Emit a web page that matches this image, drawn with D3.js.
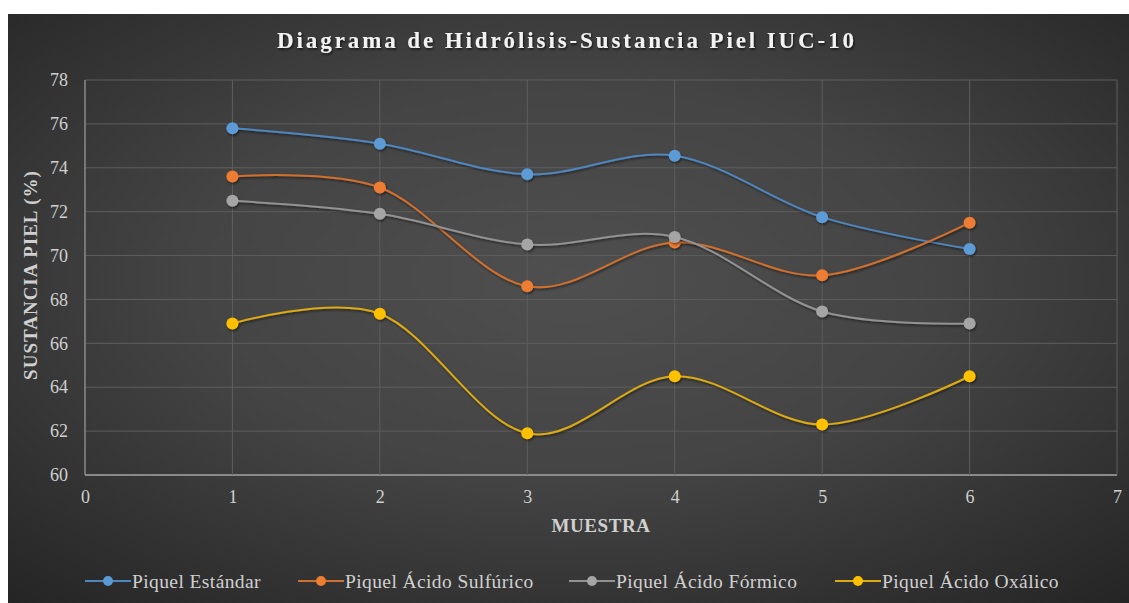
<!DOCTYPE html>
<html><head><meta charset="utf-8">
<script src="https://cdn.jsdelivr.net/npm/d3@7"></script>
<style>
html,body{margin:0;padding:0;background:#fff;}
svg{display:block;}
</style></head>
<body>
<svg id="chart" width="1129" height="603"></svg>
<script>
const muestras = [1, 2, 3, 4, 5, 6];
const seriesNames = ["Piquel Estándar", "Piquel Ácido Sulfúrico", "Piquel Ácido Fórmico", "Piquel Ácido Oxálico"];
const estandar  = [75.8, 75.1, 73.7, 74.55, 71.75, 70.3];
const sulfurico = [73.6, 73.1, 68.6, 70.6, 69.1, 71.5];
const formico   = [72.5, 71.9, 70.5, 70.85, 67.45, 66.9];
const oxalico   = [66.9, 67.35, 61.9, 64.5, 62.3, 64.5];
const xTicks = [0, 1, 2, 3, 4, 5, 6, 7];
const yTicks = [60, 62, 64, 66, 68, 70, 72, 74, 76, 78];
const colors = ["#5b9bd5", "#ed7d31", "#a5a5a5", "#ffc000"];
const lineColors = ["#4f86bd", "#d0702e", "#929292", "#dcaa12"];

const svg = d3.select("#chart");
const defs = svg.append("defs");
const rg = defs.append("radialGradient").attr("id","bg")
  .attr("cx","50%").attr("cy","45%").attr("r","75%");
rg.append("stop").attr("offset","0%").attr("stop-color","#4f4f4f");
rg.append("stop").attr("offset","45%").attr("stop-color","#444");
rg.append("stop").attr("offset","100%").attr("stop-color","#242424");
const f = defs.append("filter").attr("id","sh").attr("x","-50%").attr("y","-50%").attr("width","200%").attr("height","200%");
f.append("feDropShadow").attr("dx",1).attr("dy",1.5).attr("stdDeviation",1.2).attr("flood-color","#000").attr("flood-opacity",0.55);
const ft = defs.append("filter").attr("id","tsh").attr("x","-10%").attr("y","-50%").attr("width","120%").attr("height","200%");
ft.append("feDropShadow").attr("dx",1).attr("dy",1.5).attr("stdDeviation",1).attr("flood-color","#000").attr("flood-opacity",0.7);

svg.append("rect").attr("x",8).attr("y",14).attr("width",1121).attr("height",589).attr("fill","url(#bg)");

const x = d3.scaleLinear().domain([0, 7]).range([85, 1117]);
const y = d3.scaleLinear().domain([60, 78]).range([475, 80]);

const grid = svg.append("g");
grid.selectAll(".hg").data(yTicks).join("line")
  .attr("x1", x(0)).attr("x2", x(7)).attr("y1", d=>y(d)).attr("y2", d=>y(d))
  .attr("stroke", d => d===60 ? "#8a8a8a" : "#5e5e5e").attr("stroke-width", d => d===60 ? 2 : 1);
grid.selectAll(".vg").data(xTicks).join("line")
  .attr("x1", d=>x(d)).attr("x2", d=>x(d)).attr("y1", y(78)).attr("y2", y(60))
  .attr("stroke", d => d===0 ? "#8a8a8a" : "#5e5e5e").attr("stroke-width", d => d===0 ? 1.5 : 1);

const fontSerif = "Liberation Serif, Times New Roman, serif";
const xAxis = d3.axisBottom(x).tickValues(xTicks).tickSize(0).tickPadding(15).tickFormat(d3.format("d"));
const gx = svg.append("g").attr("transform", `translate(0,${y(60)})`).call(xAxis)
  .attr("font-family", fontSerif).attr("font-size", 18);
gx.select(".domain").remove();
gx.selectAll("text").attr("fill","#d0d0d0");
const yAxis = d3.axisLeft(y).tickValues(yTicks).tickSize(0).tickPadding(17).tickFormat(d3.format("d"));
const gy = svg.append("g").attr("transform", `translate(${x(0)},0)`).call(yAxis)
  .attr("font-family", fontSerif).attr("font-size", 18);
gy.select(".domain").remove();
gy.selectAll("text").attr("fill","#d0d0d0");

svg.append("text").attr("x", 567).attr("y", 48).attr("text-anchor","middle")
  .attr("fill","#f2f2f2").attr("filter","url(#tsh)")
  .attr("font-family",fontSerif).attr("font-weight","bold").attr("font-size",23).attr("letter-spacing",2.9)
  .text("Diagrama de Hidrólisis-Sustancia Piel IUC-10");

svg.append("text").attr("x", 601).attr("y", 532).attr("text-anchor","middle")
  .attr("fill","#d0d0d0").attr("font-family",fontSerif).attr("font-weight","bold").attr("font-size",19).attr("letter-spacing",0.6)
  .text("MUESTRA");
svg.append("text").attr("transform","translate(37,275) rotate(-90)").attr("text-anchor","middle")
  .attr("fill","#d0d0d0").attr("font-family",fontSerif).attr("font-weight","bold").attr("font-size",19).attr("letter-spacing",1)
  .text("SUSTANCIA PIEL (%)");

const allSeries = [estandar, sulfurico, formico, oxalico];
const line = d3.line().x((d,i)=>x(muestras[i])).y(d=>y(d)).curve(d3.curveCardinal.tension(0));
const gS = svg.append("g");
allSeries.forEach((vals, k) => {
  const g = gS.append("g").attr("filter","url(#sh)");
  g.append("path").attr("d", line(vals)).attr("fill","none").attr("stroke", lineColors[k]).attr("stroke-width", 2);
  g.selectAll("circle").data(vals).join("circle")
    .attr("cx",(d,i)=>x(muestras[i])).attr("cy",d=>y(d)).attr("r",6).attr("fill",colors[k]);
});

const legX = [85, 298, 569, 835];
const lg = svg.append("g");
seriesNames.forEach((name, k) => {
  const g = lg.append("g").attr("transform", `translate(${legX[k]},581)`);
  g.append("line").attr("x1",0).attr("x2",46).attr("y1",0).attr("y2",0).attr("stroke",lineColors[k]).attr("stroke-width",2);
  g.append("circle").attr("cx",23).attr("cy",0).attr("r",5).attr("fill",colors[k]);
  g.append("text").attr("x",47).attr("y",0).attr("dy","0.35em").attr("fill","#d0d0d0")
    .attr("font-family",fontSerif).attr("font-size",19.5).attr("letter-spacing",0.4).text(name);
});
</script>
</body></html>
